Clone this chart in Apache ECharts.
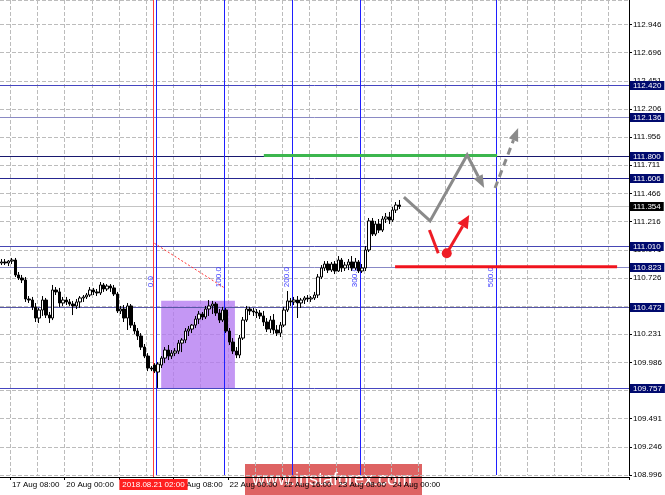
<!DOCTYPE html>
<html><head><meta charset="utf-8">
<script src="https://cdn.jsdelivr.net/npm/echarts@6/dist/echarts.min.js"></script>
<style>html,body{margin:0;padding:0;background:#fff}#c{width:665px;height:495px}</style>
</head><body><div id="c"></div>
<script>
// ---------- data ----------
const slotCount = 185; // hourly slots on the time axis (bars + future)
const timeTicks = [[3,'17 Aug 08:00'],[19,'20 Aug 00:00'],[35,'20 Aug 16:00'],[51,'21 Aug 08:00'],[67,'22 Aug 00:00'],[83,'22 Aug 16:00'],[99,'23 Aug 08:00'],[115,'24 Aug 00:00']];
const open = [
110.857,110.866,110.857,110.874,110.883,110.752,110.725,110.708,110.541,110.532,
110.471,110.374,110.444,110.532,110.400,110.374,110.620,110.603,110.506,110.532,
110.515,110.497,110.480,110.515,110.550,110.559,110.576,110.620,110.603,110.594,
110.664,110.629,110.655,110.638,110.585,110.436,110.453,110.374,110.480,110.312,
110.260,110.216,110.119,110.040,109.935,109.961,109.900,109.961,110.022,110.093,
110.040,110.066,110.084,110.154,110.181,110.260,110.277,110.312,110.365,110.409,
110.383,110.453,110.480,110.497,110.418,110.356,110.444,110.260,110.163,110.084,
110.049,110.198,110.356,110.453,110.436,110.427,110.418,110.392,110.339,110.277,
110.356,110.269,110.242,110.312,110.444,110.524,110.515,110.532,110.506,110.532,
110.550,110.541,110.550,110.576,110.734,110.813,110.848,110.795,110.848,110.787,
110.883,110.813,110.839,110.866,110.813,110.866,110.787,110.813,110.971,111.226,
111.111,111.199,111.146,111.243,111.261,111.234,111.322,111.366];
const close = [
110.866,110.857,110.874,110.883,110.752,110.725,110.708,110.541,110.532,110.471,
110.374,110.444,110.532,110.400,110.374,110.620,110.603,110.506,110.532,110.515,
110.497,110.480,110.515,110.550,110.559,110.576,110.620,110.603,110.594,110.664,
110.629,110.655,110.638,110.585,110.436,110.453,110.374,110.480,110.312,110.260,
110.216,110.119,110.040,109.935,109.926,109.908,109.970,110.022,110.093,110.040,
110.066,110.084,110.154,110.181,110.260,110.277,110.312,110.365,110.409,110.383,
110.453,110.480,110.497,110.418,110.356,110.444,110.260,110.163,110.084,110.049,
110.198,110.356,110.453,110.436,110.427,110.418,110.392,110.339,110.277,110.356,
110.269,110.242,110.312,110.444,110.524,110.515,110.532,110.506,110.532,110.550,
110.541,110.550,110.576,110.734,110.813,110.848,110.795,110.848,110.787,110.883,
110.813,110.839,110.866,110.813,110.866,110.787,110.813,110.971,111.226,111.111,
111.199,111.146,111.243,111.261,111.234,111.322,111.366,111.354];
const low = [
110.839,110.839,110.830,110.848,110.734,110.708,110.681,110.515,110.506,110.444,
110.339,110.330,110.392,110.374,110.330,110.356,110.576,110.471,110.480,110.488,
110.480,110.400,110.453,110.462,110.515,110.541,110.559,110.576,110.567,110.576,
110.603,110.611,110.603,110.567,110.418,110.409,110.339,110.269,110.286,110.234,
110.181,110.093,110.022,109.908,109.908,109.891,109.760,109.935,109.978,110.005,
110.014,110.040,110.058,110.075,110.154,110.216,110.242,110.286,110.321,110.356,
110.365,110.392,110.409,110.392,110.330,110.339,110.242,110.137,110.058,110.022,
110.022,110.181,110.339,110.400,110.392,110.374,110.365,110.304,110.251,110.242,
110.234,110.216,110.207,110.295,110.427,110.480,110.488,110.374,110.462,110.497,
110.515,110.515,110.532,110.550,110.716,110.787,110.769,110.778,110.760,110.778,
110.778,110.787,110.795,110.787,110.795,110.769,110.769,110.787,110.953,111.094,
111.094,111.120,111.129,111.208,111.199,111.217,111.296,111.331];
const high = [
110.892,110.892,110.883,110.901,110.901,110.778,110.752,110.734,110.567,110.559,
110.506,110.462,110.567,110.550,110.427,110.664,110.646,110.638,110.559,110.559,
110.541,110.524,110.541,110.567,110.576,110.594,110.646,110.638,110.629,110.690,
110.681,110.672,110.672,110.664,110.603,110.480,110.488,110.506,110.497,110.339,
110.286,110.242,110.146,110.066,109.952,109.978,109.987,110.040,110.119,110.137,
110.093,110.110,110.181,110.198,110.286,110.304,110.321,110.392,110.436,110.427,
110.480,110.532,110.524,110.515,110.453,110.471,110.462,110.286,110.198,110.119,
110.225,110.383,110.480,110.471,110.462,110.453,110.444,110.436,110.374,110.392,
110.409,110.312,110.339,110.471,110.611,110.550,110.559,110.567,110.550,110.567,
110.576,110.567,110.603,110.760,110.839,110.874,110.874,110.866,110.874,110.918,
110.901,110.866,110.892,110.918,110.901,110.883,110.848,111.006,111.252,111.252,
111.226,111.243,111.269,111.296,111.305,111.348,111.392,111.410];
const yTickLabels = ['108.996','109.246','109.491','109.741','109.986','110.231','110.476','110.726','110.971','111.216','111.466','111.711','111.956','112.206','112.451','112.696','112.946'];
const levelPrices = [112.420, 112.136, 111.800, 111.606, 111.354, 111.010, 110.823, 110.472, 109.757];
const currentPrice = 111.354;
const fibTimes = [45.8, 66.0, 86.0, 106.0, 146.0];
const fibLabels = ['0.0','100.0','200.0','300.0','500.0'];
const fibLabelPrice = 110.645;
const fibTrendTimes = [45.4, 66.2];
const fibTrendPrices = [111.030, 110.635];
const crossTime = 45.1;
const crossLabel = '2018.08.21 02:00';
const boxTimes = [47.4, 69.1];
const boxPrices = [109.757, 110.525];
const greenTimes = [77.6, 146.2];
const greenPrice = 111.800;
const redLevelTimes = [116.2, 181.5];
const redLevelPrice = 110.823;
const grayTimes = [118.8, 126.5, 137.4, 142.4];
const grayPrices = [111.436, 111.226, 111.805, 111.515];
const grayDashTimes = [145.6, 152.4];
const grayDashPrices = [111.515, 112.042];
const redArrowTimes1 = [126.3, 128.9];
const redArrowPrices1 = [111.146, 110.942];
const redDot = [131.4, 110.942];
const redArrowTimes2 = [131.4, 138.0];
const redArrowPrices2 = [110.942, 111.278];

// ---------- styles ----------
const levelColors = ['#4646c0','#8a8ac4','#18186e','#262690','#c4c4c4','#4646b4','#8888c6','#5656a6','#4646c0'];
const FONT = 'Liberation Sans, Arial, sans-serif';
const GRID_DASH = {color: '#bcbcbc', type: 'dashed', width: 1};

const cats = Array.from({length: slotCount}, (_, i) => String(i));
const tickMap = {};
timeTicks.forEach(t => { tickMap[t[0]] = t[1]; });
const candles = open.map((o, i) => [o, close[i], low[i], high[i]]);

function arrowHead(p0, p1, len, half) {
  const dx = p1[0]-p0[0], dy = p1[1]-p0[1], d = Math.hypot(dx, dy), ux = dx/d, uy = dy/d;
  const bx = p1[0]-ux*len, by = p1[1]-uy*len;
  return [[p1[0], p1[1]], [bx-uy*half, by+ux*half], [bx+uy*half, by-ux*half]];
}
function pts(api, ts, ps) { return ts.map((t, i) => api.coord([t, ps[i]])); }

function backgroundMarks(params, api) {
  const b0 = api.coord([boxTimes[0], boxPrices[1]]), b1 = api.coord([boxTimes[1], boxPrices[0]]);
  return {type:'rect', shape:{x:b0[0], y:b0[1], width:b1[0]-b0[0], height:b1[1]-b0[1]}, style:{fill:'rgba(178,118,240,0.76)'}};
}

function annotations(params, api) {
  const cs = params.coordSys;
  const ch = [];
  levelPrices.forEach((p, i) => {
    const y = Math.round(api.coord([0, p])[1]) + 0.5;
    ch.push({type:'line', shape:{x1:cs.x, y1:y, x2:cs.x+cs.width, y2:y}, style:{stroke:levelColors[i], lineWidth:1}});
    ch.push({type:'text', x:cs.x+cs.width+1, y:y, style:{text:p.toFixed(3), fill:'#fff', font:'8px '+FONT, align:'left', verticalAlign:'middle',
      backgroundColor: p === currentPrice ? '#000000' : '#000a6e', padding:[1,3,0,3]}});
  });
  fibTimes.forEach((t, i) => {
    const x = Math.round(api.coord([t, fibLabelPrice])[0]) + 0.5;
    ch.push({type:'line', shape:{x1:x, y1:cs.y, x2:x, y2:cs.y+cs.height}, style:{stroke:'#1f1fff', lineWidth:1}});
    const py = api.coord([t, fibLabelPrice])[1];
    ch.push({type:'text', x:x-2, y:py, rotation:Math.PI/2, style:{text:fibLabels[i], fill:'#3a3aff', font:'8px '+FONT, align:'left', verticalAlign:'bottom'}});
  });
  const cx = Math.round(api.coord([crossTime, fibLabelPrice])[0]) + 0.5;
  ch.push({type:'line', shape:{x1:cx, y1:cs.y, x2:cx, y2:cs.y+cs.height+2}, style:{stroke:'#ff3b3b', lineWidth:1}});
  ch.push({type:'text', x:cx, y:cs.y+cs.height+4, style:{text:crossLabel, fill:'#fff', font:'8px '+FONT, align:'center', verticalAlign:'top', backgroundColor:'#ff1f1f', padding:[2,3,1,3]}});
  const ft = pts(api, fibTrendTimes, fibTrendPrices);
  ch.push({type:'line', shape:{x1:ft[0][0], y1:ft[0][1], x2:ft[1][0], y2:ft[1][1]}, style:{stroke:'#ff3030', lineWidth:1, lineDash:[2,2]}});
  const g = pts(api, greenTimes, [greenPrice, greenPrice]);
  ch.push({type:'line', shape:{x1:g[0][0], y1:g[0][1], x2:g[1][0], y2:g[1][1]}, style:{stroke:'#3cb64e', lineWidth:3}});
  const r = pts(api, redLevelTimes, [redLevelPrice, redLevelPrice]);
  ch.push({type:'line', shape:{x1:r[0][0], y1:r[0][1], x2:r[1][0], y2:r[1][1]}, style:{stroke:'#f0141e', lineWidth:3}});
  const gp = pts(api, grayTimes, grayPrices);
  const gl = gp.length;
  const gEnd = arrowHead(gp[gl-2], gp[gl-1], 13, 5);
  const gLine = gp.slice(0, gl-1).concat([[ (gEnd[1][0]+gEnd[2][0])/2, (gEnd[1][1]+gEnd[2][1])/2 ]]);
  ch.push({type:'polyline', shape:{points:gLine}, style:{stroke:'#8a8a8a', lineWidth:3, fill:null, lineJoin:'miter'}});
  ch.push({type:'polygon', shape:{points:gEnd}, style:{fill:'#8a8a8a'}});
  const dp = pts(api, grayDashTimes, grayDashPrices);
  const dEnd = arrowHead(dp[0], dp[1], 13, 5);
  ch.push({type:'line', shape:{x1:dp[0][0], y1:dp[0][1], x2:(dEnd[1][0]+dEnd[2][0])/2, y2:(dEnd[1][1]+dEnd[2][1])/2}, style:{stroke:'#8a8a8a', lineWidth:3, lineDash:[7,5]}});
  ch.push({type:'polygon', shape:{points:dEnd}, style:{fill:'#8a8a8a'}});
  const r1 = pts(api, redArrowTimes1, redArrowPrices1);
  ch.push({type:'line', shape:{x1:r1[0][0], y1:r1[0][1], x2:r1[1][0], y2:r1[1][1]}, style:{stroke:'#ee1c25', lineWidth:3}});
  const rd = api.coord(redDot);
  ch.push({type:'circle', shape:{cx:rd[0], cy:rd[1], r:5}, style:{fill:'#ee1c25'}});
  const r2 = pts(api, redArrowTimes2, redArrowPrices2);
  const rEnd = arrowHead(r2[0], r2[1], 13, 6);
  ch.push({type:'line', shape:{x1:r2[0][0], y1:r2[0][1], x2:(rEnd[1][0]+rEnd[2][0])/2, y2:(rEnd[1][1]+rEnd[2][1])/2}, style:{stroke:'#ee1c25', lineWidth:3}});
  ch.push({type:'polygon', shape:{points:rEnd}, style:{fill:'#ee1c25'}});
  return {type:'group', children:ch};
}

const chart = echarts.init(document.getElementById('c'), null, {renderer: 'canvas'});
chart.setOption({
  animation: false,
  backgroundColor: '#ffffff',
  grid: {left: 0, right: 36, top: 0, bottom: 20},
  xAxis: [{
    type: 'category', data: cats, boundaryGap: true, offset: 2,
    axisLine: {show: true, onZero: false, lineStyle: {color: '#000', width: 1}},
    axisTick: {show: true, length: 3, interval: (i) => tickMap[i] !== undefined, lineStyle: {color: '#000'}},
    axisLabel: {show: true, interval: (i) => tickMap[i] !== undefined, formatter: (v, i) => tickMap[i] || '',
      align: 'left', margin: 4, fontSize: 8, color: '#000', fontFamily: FONT},
    splitLine: {show: true, interval: (i) => i % 8 === 3, lineStyle: GRID_DASH}
  }, {
    type: 'value', min: 0, max: slotCount, show: false, axisLine: {onZero: false}
  }],
  yAxis: [{
    type: 'value', position: 'right', min: 108.996, max: 113.1656, interval: 108.996 / 441,
    axisLine: {show: true, onZero: false, lineStyle: {color: '#000', width: 1}},
    axisTick: {show: true, length: 3, lineStyle: {color: '#000'}},
    axisLabel: {show: true, showMaxLabel: false, margin: 4, fontSize: 8, color: '#000', fontFamily: FONT,
      formatter: (v) => { let best = yTickLabels[0]; let bd = 1e9; yTickLabels.forEach(s => { const d = Math.abs(parseFloat(s) - v); if (d < bd) { bd = d; best = s; } }); return best; }},
    splitLine: {show: true, lineStyle: GRID_DASH}
  }],
  series: [{
    type: 'custom', xAxisIndex: 1, yAxisIndex: 0, data: [[0, 110]], renderItem: backgroundMarks, z: 1, silent: true
  }, {
    type: 'candlestick', xAxisIndex: 0, yAxisIndex: 0, data: candles, barWidth: 3, z: 3,
    itemStyle: {color: '#ffffff', color0: '#000000', borderColor: '#000000', borderColor0: '#000000', borderWidth: 1}
  }, {
    type: 'custom', xAxisIndex: 1, yAxisIndex: 0, data: [[0, 110]], renderItem: annotations, z: 2, silent: true, clip: false
  }],
  graphic: [{
    type: 'group', z: 100, children: [
      {type: 'rect', shape: {x: 245, y: 464, width: 177, height: 33}, style: {fill: 'rgba(216,73,73,0.86)'}},
      {type: 'text', x: 332, y: 480, style: {text: 'www.instaforex.com', fill: '#ffffff', font: '18px ' + FONT, align: 'center', verticalAlign: 'middle'}}
    ]
  }]
});
</script></body></html>
